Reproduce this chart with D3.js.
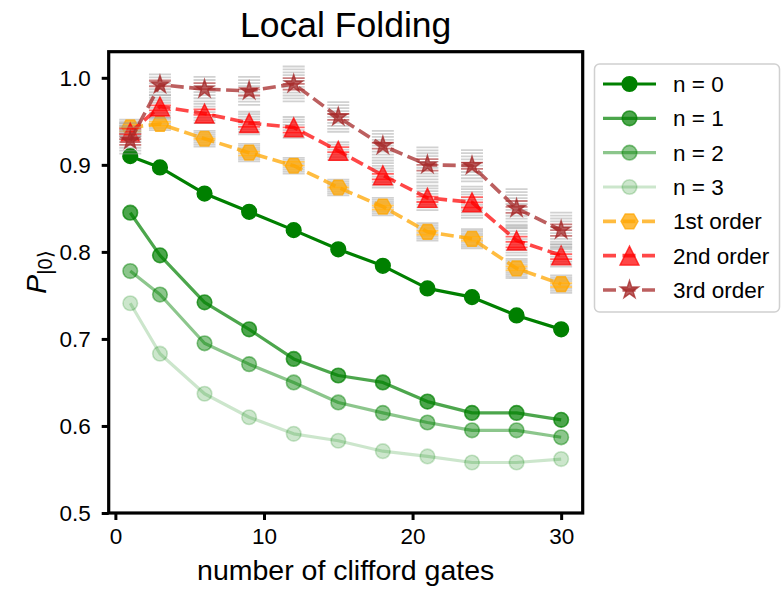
<!DOCTYPE html>
<html>
<head>
<meta charset="utf-8">
<script src="https://cdn.jsdelivr.net/npm/d3@7"></script>
<style>
  html, body { margin: 0; padding: 0; background: #fff; }
  svg { display: block; font-family: "Liberation Sans", Arial, Helvetica, sans-serif; }
</style>
</head>
<body>
<svg id="chart" width="782" height="590"></svg>
<script>
// ---------------- data ----------------
const cliffordGates = [1, 3, 6, 9, 12, 15, 18, 21, 24, 27, 30];
const n0Values = [0.910, 0.897, 0.867, 0.846, 0.825, 0.803, 0.784, 0.758, 0.748, 0.727, 0.711];
const n1Values = [0.845, 0.796, 0.742, 0.711, 0.677, 0.658, 0.650, 0.628, 0.615, 0.615, 0.607];
const n2Values = [0.778, 0.751, 0.695, 0.671, 0.650, 0.627, 0.615, 0.604, 0.595, 0.595, 0.587];
const n3Values = [0.741, 0.683, 0.637, 0.610, 0.591, 0.583, 0.571, 0.565, 0.558, 0.558, 0.562];
const firstOrder = [0.943, 0.947, 0.930, 0.914, 0.899, 0.874, 0.852, 0.823, 0.815, 0.781, 0.763];
const secondOrder = [0.937, 0.967, 0.959, 0.948, 0.943, 0.916, 0.888, 0.862, 0.857, 0.813, 0.796];
const thirdOrder = [0.928, 0.992, 0.987, 0.985, 0.993, 0.955, 0.922, 0.900, 0.899, 0.850, 0.825];
const firstOrderErr = [0.009, 0.007, 0.009, 0.010, 0.009, 0.009, 0.010, 0.010, 0.011, 0.011, 0.010];
const secondOrderErr = [0.011, 0.013, 0.011, 0.013, 0.012, 0.010, 0.014, 0.014, 0.018, 0.017, 0.013];
const thirdOrderErr = [0.015, 0.012, 0.014, 0.016, 0.020, 0.017, 0.017, 0.020, 0.018, 0.022, 0.020];
const xTicks = [0, 10, 20, 30];
const yTicks = [0.5, 0.6, 0.7, 0.8, 0.9, 1.0];
const seriesLabels = ["n = 0", "n = 1", "n = 2", "n = 3", "1st order", "2nd order", "3rd order"];
const titleText = "Local Folding";
const xLabelText = "number of clifford gates";

// ---------------- layout ----------------
const svg = d3.select("#chart");
const L = 108.7, R = 582.7, T = 51.7, B = 513;
const x = d3.scaleLinear().domain([-0.45, 31.45]).range([L, R]);
const y = d3.scaleLinear().domain([0.5, 1.03]).range([B, T]);

const series = [
  {label: seriesLabels[0], values: n0Values, color: "#008000", alpha: 1.0, marker: "circle", dash: null},
  {label: seriesLabels[1], values: n1Values, color: "#008000", alpha: 0.7, marker: "circle", dash: null},
  {label: seriesLabels[2], values: n2Values, color: "#008000", alpha: 0.45, marker: "circle", dash: null},
  {label: seriesLabels[3], values: n3Values, color: "#008000", alpha: 0.2, marker: "circle", dash: null},
  {label: seriesLabels[4], values: firstOrder, err: firstOrderErr, color: "#ffa500", alpha: 0.75, marker: "hexagon", dash: "13,5.5", stripeGap: 2},
  {label: seriesLabels[5], values: secondOrder, err: secondOrderErr, color: "#ff0000", alpha: 0.72, marker: "triangle", dash: "13,5.5", stripeGap: 2.6},
  {label: seriesLabels[6], values: thirdOrder, err: thirdOrderErr, color: "#a52a2a", alpha: 0.75, marker: "star", dash: "13,5.5", stripeGap: 3}
];

function markerPath(type) {
  if (type === "hexagon") {
    const r = 8.5, pts = [];
    for (let i = 0; i < 6; i++) { const a = Math.PI / 3 * i; pts.push([r * Math.cos(a), r * Math.sin(a)]); }
    return "M" + pts.map(p => p.join(",")).join("L") + "Z";
  }
  if (type === "triangle") {
    const s = 9.5;
    return `M0,${-s}L${-s},${s}L${s},${s}Z`;
  }
  if (type === "star") {
    const ro = 9.5, ri = ro * 0.381966, pts = [];
    for (let i = 0; i < 10; i++) {
      const a = -Math.PI / 2 + i * Math.PI / 5;
      const r = i % 2 === 0 ? ro : ri;
      pts.push([r * Math.cos(a), r * Math.sin(a)]);
    }
    return "M" + pts.map(p => p[0].toFixed(2) + "," + p[1].toFixed(2)).join("L") + "Z";
  }
  return null;
}

function drawMarker(g, type, cx, cy, color, alpha) {
  if (type === "circle") {
    g.append("circle").attr("cx", cx).attr("cy", cy).attr("r", 7.3)
      .attr("fill", color).attr("fill-opacity", alpha)
      .attr("stroke", color).attr("stroke-opacity", alpha).attr("stroke-width", 1.6);
  } else {
    g.append("path").attr("d", markerPath(type)).attr("transform", `translate(${cx},${cy})`)
      .attr("fill", color).attr("fill-opacity", alpha)
      .attr("stroke", color).attr("stroke-opacity", alpha).attr("stroke-width", 1.4)
      .attr("stroke-linejoin", "miter");
  }
}

// clip for plot area
svg.append("defs").append("clipPath").attr("id", "clip")
  .append("rect").attr("x", L).attr("y", T).attr("width", R - L).attr("height", B - T);

const plot = svg.append("g").attr("clip-path", "url(#clip)");
const line = d3.line().x(d => x(d[0])).y(d => y(d[1]));

series.forEach(s => {
  const g = plot.append("g");
  const pts = cliffordGates.map((c, i) => [c, s.values[i]]);
  // error stripes
  if (s.err) {
    const eg = g.append("g");
    pts.forEach((p, i) => {
      const y0 = y(p[1] + s.err[i]), y1 = y(p[1] - s.err[i]);
      const cx = x(p[0]);
      const n = Math.max(2, Math.round((y1 - y0) / s.stripeGap));
      for (let k = 0; k <= n; k++) {
        const yy = y0 + (y1 - y0) * k / n;
        const rel = Math.abs(yy - y(p[1])) / Math.max(1, (y1 - y0) / 2);
        const colored = rel < 0.5 && k % 2 === 0;
        eg.append("line")
          .attr("x1", cx - 11).attr("x2", cx + 11).attr("y1", yy).attr("y2", yy)
          .attr("stroke", colored ? s.color : "#9a9a9a")
          .attr("stroke-opacity", colored ? 0.6 : 0.45)
          .attr("stroke-width", 1.8);
      }
    });
  }
  g.append("path").datum(pts).attr("d", line)
    .attr("fill", "none").attr("stroke", s.color).attr("stroke-opacity", s.alpha)
    .attr("stroke-width", s.dash ? 3.6 : 3.2)
    .attr("stroke-dasharray", s.dash)
    .attr("stroke-linejoin", "round");
  pts.forEach(p => drawMarker(g, s.marker, x(p[0]), y(p[1]), s.color, s.alpha));
});

// axes
const tickFont = "22.5px";
const xAxis = svg.append("g").attr("transform", `translate(0,${B})`)
  .call(d3.axisBottom(x).tickValues(xTicks).tickFormat(d3.format("d")).tickSize(7).tickSizeOuter(0).tickPadding(8));
const yAxis = svg.append("g").attr("transform", `translate(${L},0)`)
  .call(d3.axisLeft(y).tickValues(yTicks).tickFormat(d3.format(".1f")).tickSize(7).tickSizeOuter(0).tickPadding(9));
[xAxis, yAxis].forEach(a => {
  a.select(".domain").remove();
  a.selectAll(".tick line").attr("stroke", "#000").attr("stroke-width", 3);
  a.selectAll(".tick text").attr("fill", "#000").style("font-size", tickFont)
    .style("font-family", '"Liberation Sans", Arial, Helvetica, sans-serif');
});
xAxis.selectAll(".tick text").attr("dy", "0.71em").attr("y", 15);
yAxis.selectAll(".tick text").attr("x", -18).attr("dy", "0.35em");

// frame
svg.append("rect").attr("x", L).attr("y", T).attr("width", R - L).attr("height", B - T)
  .attr("fill", "none").attr("stroke", "#000").attr("stroke-width", 3.2);

// title & labels
svg.append("text").attr("x", (L + R) / 2).attr("y", 37).attr("text-anchor", "middle")
  .style("font-size", "35.5px").attr("fill", "#000").text(titleText);
svg.append("text").attr("x", (L + R) / 2).attr("y", 580).attr("text-anchor", "middle")
  .style("font-size", "28.5px").attr("fill", "#000").text(xLabelText);
const yl = svg.append("text").attr("transform", "translate(46,272) rotate(-90)")
  .attr("text-anchor", "middle").style("font-size", "28.5px").attr("fill", "#000");
yl.append("tspan").style("font-style", "italic").text("P");
yl.append("tspan").style("font-size", "20px").attr("dy", 6).text("|0⟩");

// legend
const lg = svg.append("g");
lg.append("rect").attr("x", 594.5).attr("y", 64).attr("width", 185).attr("height", 248)
  .attr("rx", 5).attr("ry", 5).attr("fill", "#fff").attr("fill-opacity", 0.8)
  .attr("stroke", "#d0d0d0").attr("stroke-width", 1.5);
const rowY = d3.scaleLinear().domain([0, 6]).range([84, 290]);
series.forEach((s, i) => {
  const yy = rowY(i);
  lg.append("line").attr("x1", 603).attr("x2", 656).attr("y1", yy).attr("y2", yy)
    .attr("stroke", s.color).attr("stroke-opacity", s.alpha)
    .attr("stroke-width", s.dash ? 3.6 : 3.2).attr("stroke-dasharray", s.dash ? "13,6.5" : null);
  drawMarker(lg, s.marker, 629.5, yy, s.color, s.alpha);
  lg.append("text").attr("x", 673).attr("y", yy).attr("dy", "0.36em")
    .style("font-size", "22.5px").attr("fill", "#000").text(s.label);
});
</script>
</body>
</html>
